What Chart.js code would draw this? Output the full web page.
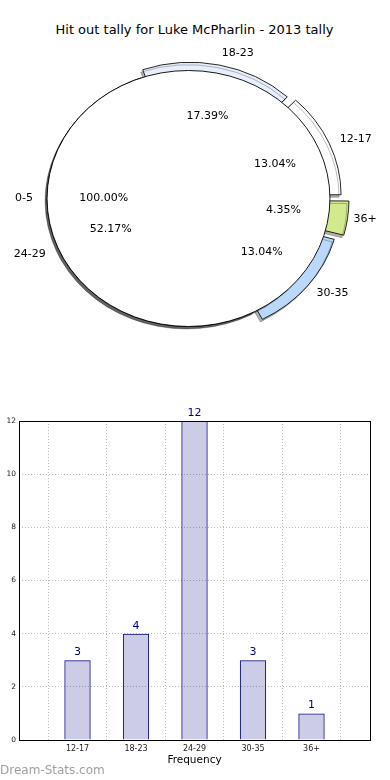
<!DOCTYPE html>
<html>
<head>
<meta charset="utf-8">
<script src="https://cdn.jsdelivr.net/npm/chart.js@4.4.0/dist/chart.umd.min.js"></script>
<style>
body { margin:0; background:#fff; width:390px; height:780px; overflow:hidden; position:relative; font-family:"DejaVu Sans", sans-serif; }
#title { position:absolute; top:22px; left:0; width:389px; text-align:center; font-size:13px; color:#000; }
canvas { position:absolute; }
#pieBack, #pieFront { left:0; top:0; }
#bars { left:-8px; top:400px; }
#footer { position:absolute; left:0; top:763px; font-size:12px; color:#a0a0a0; }
</style>
</head>
<body>
<div id="title">Hit out tally for Luke McPharlin - 2013 tally</div>
<canvas id="pieBack" width="390" height="360"></canvas>
<canvas id="pieFront" width="390" height="360"></canvas>
<canvas id="bars" width="398" height="380"></canvas>
<div id="footer">Dream-Stats.com</div>
<script>
// pie data (hit out ranges)
var pieLabels = ['12-17', '18-23', '24-29', '30-35', '36+'];
var pieValues = [3, 4, 12, 3, 1];
// the 0-5 slice comes out as a full circle on top
var emptyLabel = ['0-5'];
var emptyShare = [100];

// bar data
var barLabels = ['12-17', '18-23', '24-29', '30-35', '36+'];
var barValues = [3, 4, 12, 3, 1];
var yMin = 0, yMax = 12, yStep = 2;

Chart.defaults.font.family = '"DejaVu Sans", sans-serif';
Chart.defaults.color = '#000';

var pieColors = ['#ffffff', '#e8eefb', '#ffffff', '#b9d8fb', '#d3e98d'];
var pieExplode = [34, 30, 0, 34, 40];
var SX = 1.105; // pie is drawn a bit wider than tall

// stretch the pie sideways and give it a shadow
function stretch(alpha) {
  return {
    id: 'stretch',
    beforeDatasetsDraw: function(chart) {
      var ctx = chart.ctx;
      var m = chart.getDatasetMeta(0).data[0];
      ctx.save();
      ctx.translate(m.x, m.y);
      ctx.scale(SX, 1);
      ctx.translate(-m.x, -m.y);
      ctx.shadowColor = 'rgba(0,0,0,' + alpha + ')';
      ctx.shadowOffsetX = -2;
      ctx.shadowOffsetY = 2.5;
    },
    afterDatasetsDraw: function(chart) {
      chart.ctx.restore();
    }
  };
}

// outline of the full circle (chart.js would draw a seam line to the centre)
var ring = {
  id: 'ring',
  afterDatasetsDraw: function(chart) {
    var a = chart.getDatasetMeta(0).data[0];
    var ctx = chart.ctx;
    ctx.save();
    ctx.translate(a.x, a.y);
    ctx.scale(SX, 1);
    ctx.beginPath();
    ctx.arc(0, 0, a.outerRadius, 0, Math.PI * 2);
    ctx.restore();
    ctx.save();
    ctx.strokeStyle = '#000';
    ctx.lineWidth = 0.9;
    ctx.stroke();
    ctx.restore();
  }
};

var pieLayout = { padding: { left: 0, right: 13, top: 37, bottom: 0 } };

var backChart = new Chart('pieBack', {
  type: 'pie',
  data: {
    labels: pieLabels.slice().reverse(),
    datasets: [{
      data: pieValues.slice().reverse(),
      backgroundColor: pieColors.slice().reverse(),
      offset: pieExplode.slice().reverse(),
      borderColor: '#000',
      borderWidth: 0.8
    }]
  },
  options: {
    responsive: false,
    animation: false,
    rotation: 90,
    radius: 128,
    layout: pieLayout,
    plugins: { legend: { display: false }, tooltip: { enabled: false } }
  },
  plugins: [stretch(0.3)]
});

function arcText(ctx, arc, label, pct) {
  var mid = (arc.startAngle + arc.endAngle) / 2;
  var off = (arc.options.offset || 0) / 4;
  var c = Math.cos(mid), s = Math.sin(mid);
  var r1 = arc.outerRadius * 0.6 + off;
  var r2 = arc.outerRadius * 1.1 + off;
  ctx.textBaseline = 'middle';
  ctx.textAlign = 'center';
  ctx.fillText(pct, arc.x + SX * r1 * c, arc.y + r1 * s);
  ctx.textAlign = c > 0 ? 'left' : 'right';
  ctx.fillText(label, arc.x + SX * r2 * c, arc.y + r2 * s);
}

// all pie texts go on the front canvas so the circle does not hide them
var pieText = {
  id: 'pieText',
  afterDraw: function(chart) {
    var ctx = chart.ctx;
    ctx.save();
    ctx.font = '11px "DejaVu Sans"';
    ctx.fillStyle = '#000';
    var front = chart.getDatasetMeta(0).data[0];
    arcText(ctx, front, chart.data.labels[0], emptyShare[0].toFixed(2) + '%');
    var bd = backChart.data;
    var vals = bd.datasets[0].data;
    var total = vals.reduce(function(a, b) { return a + b; }, 0);
    backChart.getDatasetMeta(0).data.forEach(function(arc, i) {
      arcText(ctx, arc, bd.labels[i], (vals[i] / total * 100).toFixed(2) + '%');
    });
    ctx.restore();
  }
};

new Chart('pieFront', {
  type: 'pie',
  data: {
    labels: emptyLabel,
    datasets: [{
      data: emptyShare,
      backgroundColor: '#ffffff',
      borderWidth: 0
    }]
  },
  options: {
    responsive: false,
    animation: false,
    rotation: 90,
    radius: 128,
    layout: pieLayout,
    plugins: { legend: { display: false }, tooltip: { enabled: false } }
  },
  plugins: [stretch(0.45), ring, pieText]
});

// numbers over the bars
var barNumbers = {
  id: 'barNumbers',
  afterDatasetsDraw: function(chart) {
    var ctx = chart.ctx;
    var data = chart.data.datasets[0].data;
    ctx.save();
    ctx.font = '11px "DejaVu Sans"';
    ctx.fillStyle = '#000080';
    ctx.textAlign = 'center';
    ctx.textBaseline = 'middle';
    chart.getDatasetMeta(0).data.forEach(function(bar, i) {
      if (data[i] == null) return;
      ctx.fillText(data[i], bar.x, bar.y - 8);
    });
    ctx.restore();
  }
};

// black frame round the plot
var frame = {
  id: 'frame',
  afterDraw: function(chart) {
    var a = chart.chartArea, ctx = chart.ctx;
    ctx.save();
    ctx.strokeStyle = '#000';
    ctx.lineWidth = 1;
    ctx.strokeRect(Math.round(a.left) + 0.5, Math.round(a.top) + 0.5,
      Math.round(a.right - a.left), Math.round(a.bottom - a.top));
    ctx.restore();
  }
};

var xCats = [''].concat(barLabels, ['']);
var barData = [null].concat(barValues, [null]);

new Chart('bars', {
  type: 'bar',
  data: {
    labels: xCats,
    datasets: [{
      data: barData,
      backgroundColor: 'rgba(0,0,128,0.2)',
      borderColor: '#000080',
      borderWidth: 1,
      categoryPercentage: 1,
      barPercentage: 0.45
    }]
  },
  options: {
    responsive: false,
    animation: false,
    layout: { padding: { left: 0, right: 20, top: 21, bottom: 0 } },
    plugins: { legend: { display: false }, tooltip: { enabled: false } },
    scales: {
      x: {
        offset: false,
        grid: { color: '#bbbbbb', drawTicks: false },
        border: { display: false, dash: [1, 2] },
        ticks: { font: { size: 8 }, color: '#222', padding: 4, maxRotation: 0, autoSkip: false },
        title: { display: true, text: 'Frequency', font: { size: 10.5 }, color: '#000', padding: { top: 0, bottom: 13 } },
        afterFit: function(s) { s.height = 40; }
      },
      y: {
        min: yMin,
        max: yMax,
        grid: { color: '#bbbbbb', drawTicks: false },
        border: { display: false, dash: [1, 2] },
        ticks: { stepSize: yStep, font: { size: 7.5 }, color: '#222', padding: 3 },
        title: { display: true, text: 'No. of Games', font: { size: 10 }, color: '#000', padding: { top: -1, bottom: 0 } },
        afterFit: function(s) { s.width = 27; }
      }
    }
  },
  plugins: [barNumbers, frame]
});
</script>
</body>
</html>
